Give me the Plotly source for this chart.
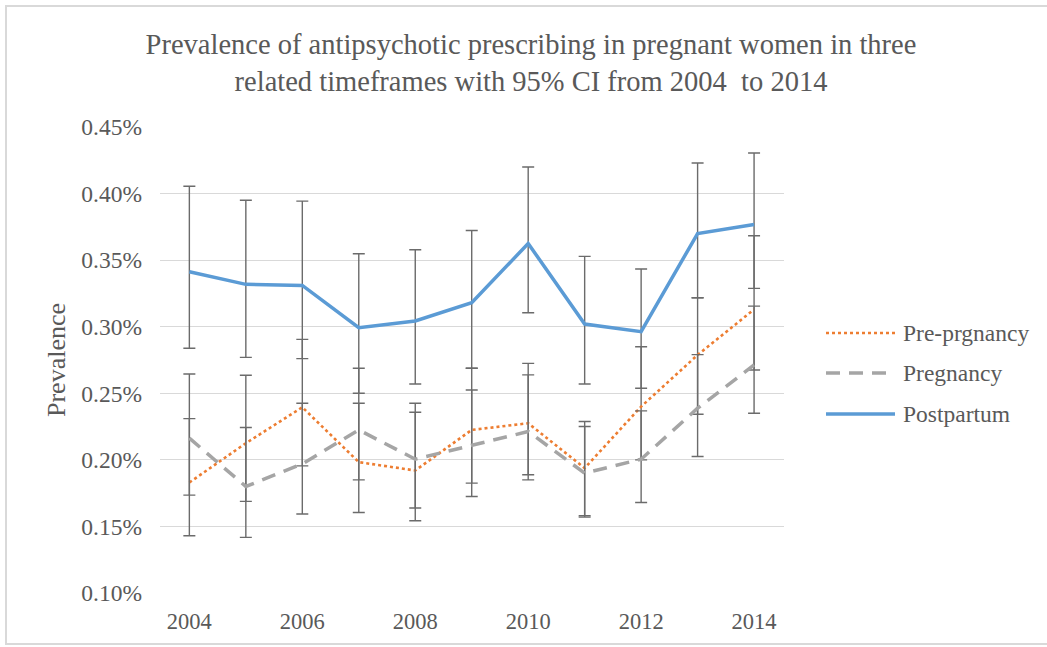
import plotly.graph_objects as go

# Years and prevalence (%) with 95% CI bounds for each timeframe
years = [2004, 2005, 2006, 2007, 2008, 2009, 2010, 2011, 2012, 2013, 2014]

pre_prg = [0.1830, 0.2125, 0.2395, 0.1983, 0.1920, 0.2225, 0.2275, 0.1938, 0.2400, 0.2788, 0.3130]
pre_prg_hi = [0.2310, 0.2635, 0.2905, 0.2425, 0.2358, 0.2688, 0.2725, 0.2288, 0.2850, 0.3218, 0.3683]
pre_prg_lo = [0.1430, 0.1688, 0.1955, 0.1605, 0.1543, 0.1825, 0.1888, 0.1580, 0.2000, 0.2343, 0.2675]

pregnancy = [0.2163, 0.1800, 0.1970, 0.2225, 0.2005, 0.2110, 0.2213, 0.1900, 0.2005, 0.2388, 0.2713]
pregnancy_hi = [0.2645, 0.2243, 0.2425, 0.2688, 0.2425, 0.2525, 0.2638, 0.2250, 0.2368, 0.2790, 0.3155]
pregnancy_lo = [0.1735, 0.1418, 0.1593, 0.1850, 0.1638, 0.1725, 0.1850, 0.1570, 0.1680, 0.2025, 0.2350]

postpartum = [0.3413, 0.3318, 0.3310, 0.2993, 0.3043, 0.3180, 0.3625, 0.3020, 0.2963, 0.3700, 0.3768]
postpartum_hi = [0.4055, 0.3950, 0.3943, 0.3548, 0.3578, 0.3723, 0.4200, 0.3528, 0.3433, 0.4230, 0.4305]
postpartum_lo = [0.2838, 0.2770, 0.2760, 0.2500, 0.2570, 0.2688, 0.3105, 0.2570, 0.2538, 0.3218, 0.3288]

y_ticks = [0.10, 0.15, 0.20, 0.25, 0.30, 0.35, 0.40, 0.45]
y_tick_labels = ["0.10%", "0.15%", "0.20%", "0.25%", "0.30%", "0.35%", "0.40%", "0.45%"]
x_ticks = [2004, 2006, 2008, 2010, 2012, 2014]

series = [
    ("Pre-prgnancy", pre_prg, pre_prg_hi, pre_prg_lo, "#ED7D31", 2.6, "3px,3px"),
    ("Pregnancy", pregnancy, pregnancy_hi, pregnancy_lo, "#A5A5A5", 3.5, "14px,9px"),
    ("Postpartum", postpartum, postpartum_hi, postpartum_lo, "#5B9BD5", 3.5, "solid"),
]

FONT = "Liberation Serif"
TXT = "#595959"
W, H = 1047, 647
ML, MR, MT, MB = 160, 263, 127, 54
PW, PH = W - ML - MR, H - MT - MB


def px_x(px):
    return (px - ML) / PW


def px_y(py):
    return (H - MB - py) / PH


fig = go.Figure()
for name, vals, hi, lo, color, width, dash in series:
    fig.add_trace(go.Scatter(
        x=years, y=vals, name=name, mode="lines",
        line=dict(color=color, width=width, dash=dash),
        error_y=dict(
            type="data", symmetric=False,
            array=[h - v for h, v in zip(hi, vals)],
            arrayminus=[v - l for v, l in zip(vals, lo)],
            color="#6b6b6b", thickness=1.4, width=6,
        ),
        showlegend=False,
    ))

shapes = [
    # chart frame
    dict(type="rect", xref="paper", yref="paper",
         x0=px_x(6), x1=px_x(1060), y0=px_y(644), y1=px_y(6),
         line=dict(color="#d9d9d9", width=2), fillcolor="rgba(0,0,0,0)", layer="below"),
]
annotations = []

# legend entries on the right
legend_y = [333, 373, 414]
for (name, vals, hi, lo, color, width, dash), ly in zip(series, legend_y):
    shapes.append(dict(type="line", xref="paper", yref="paper",
                       x0=px_x(826), x1=px_x(895), y0=px_y(ly), y1=px_y(ly),
                       line=dict(color=color, width=width, dash=dash)))
    annotations.append(dict(xref="paper", yref="paper", x=px_x(901), y=px_y(ly),
                            text=name, showarrow=False, xanchor="left", yanchor="middle",
                            font=dict(family=FONT, size=23.5, color=TXT)))

fig.update_layout(
    width=W, height=H,
    margin=dict(l=ML, r=MR, t=MT, b=MB),
    paper_bgcolor="white", plot_bgcolor="white",
    title=dict(
        text="Prevalence of antipsychotic prescribing in pregnant women in three<br>"
             "related timeframes with 95% CI from 2004  to 2014",
        x=531 / W, xref="container", xanchor="center",
        y=1 - 54 / H, yref="container", yanchor="middle",
        font=dict(family=FONT, size=28.5, color=TXT),
    ),
    xaxis=dict(
        range=[2003.48, 2014.53], tickvals=x_ticks, ticktext=[str(t) for t in x_ticks],
        showgrid=False, zeroline=False, showline=False, ticks="",
        ticklabelstandoff=12,
        tickfont=dict(family=FONT, size=22.5, color=TXT),
    ),
    yaxis=dict(
        range=[0.10, 0.45], tickvals=y_ticks, ticktext=y_tick_labels,
        showgrid=True, gridcolor="#d9d9d9", gridwidth=1, zeroline=False,
        showline=False, ticks="", ticklabelstandoff=17,
        tickfont=dict(family=FONT, size=23.5, color=TXT),
        title=dict(text="Prevalence", font=dict(family=FONT, size=26, color=TXT), standoff=8),
    ),
    shapes=shapes,
    annotations=annotations,
)

fig.write_html("out.html")
